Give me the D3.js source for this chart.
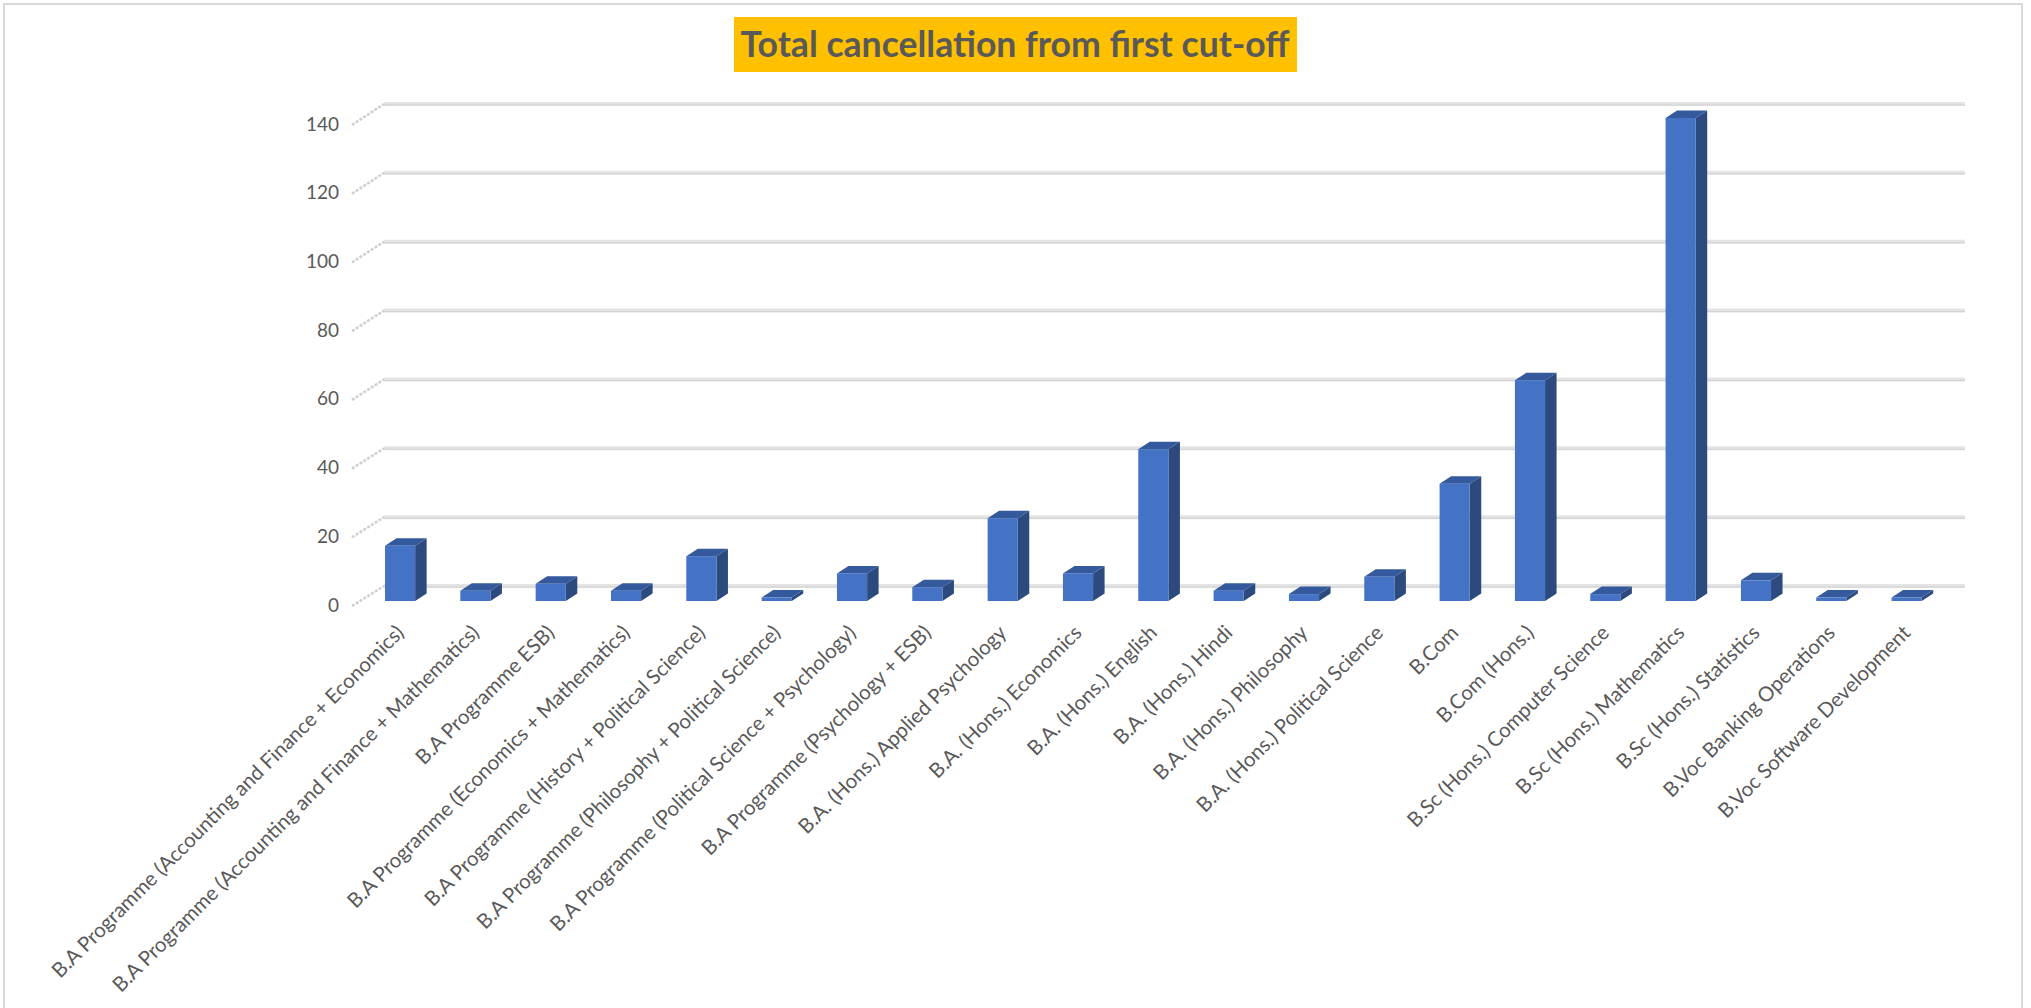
<!doctype html>
<html>
  <head>
    <meta charset="utf-8">
    <title>Total cancellation from first cut-off</title>
    <script src="https://cdn.jsdelivr.net/npm/d3@7/dist/d3.min.js"></script>
    <style>
      html, body { margin:0; padding:0; overflow:hidden; background:#fff }
      svg { display:block }
      text { font-family: Lato, "Open Sans", sans-serif; fill:#595959 }
    </style>
  </head>
  <body>
    <div id="chart"></div>
    <script>
      var W = 2031, H = 1008;

      var courses = [
        "B.A Programme (Accounting and Finance + Economics)",
        "B.A Programme (Accounting and Finance + Mathematics)",
        "B.A Programme ESB)",
        "B.A Programme (Economics + Mathematics)",
        "B.A Programme (History + Political Science)",
        "B.A Programme (Philosophy + Political Science)",
        "B.A Programme (Political Science + Psychology)",
        "B.A Programme (Psychology + ESB)",
        "B.A. (Hons.) Applied Psychology",
        "B.A. (Hons.) Economics",
        "B.A. (Hons.) English",
        "B.A. (Hons.) Hindi",
        "B.A. (Hons.) Philosophy",
        "B.A. (Hons.) Political Science",
        "B.Com",
        "B.Com (Hons.)",
        "B.Sc (Hons.) Computer Science",
        "B.Sc (Hons.) Mathematics",
        "B.Sc (Hons.) Statistics",
        "B.Voc Banking Operations",
        "B.Voc Software Development"
      ];
      var cancellations = [16, 3, 5, 3, 13, 1, 8, 4, 24, 8, 44, 3, 2, 7, 34, 64, 2, 140, 6, 1, 1];
      var yTicks = [0, 20, 40, 60, 80, 100, 120, 140];
      var title = "Total cancellation from first cut-off";

      var svg = d3.select("#chart").append("svg")
        .attr("width", W).attr("height", H);

      // chart area border
      svg.append("rect")
        .attr("x", 4).attr("y", 4).attr("width", 2018).attr("height", H + 10)
        .attr("fill", "none").attr("stroke", "#d9d9d9").attr("stroke-width", 2);

      // scales: front plane (bars), back wall (gridlines), floor edge (labels)
      var x = d3.scaleBand().domain(courses)
        .range([362.4, 1944.3]).paddingInner(0.6).paddingOuter(0.3);
      var yBar = d3.scaleLinear().domain([0, 140]).range([601, 118]);
      var yBack = d3.scaleLinear().domain([0, 140]).range([586, 104]);
      var yFront = d3.scaleLinear().domain([0, 140]).range([605, 124]);

      var wallX0 = 352, wallX1 = 384, wallX2 = 1965;
      var ddx = 11.5, ddy = 7.5;

      // gridlines
      var grid = svg.append("g");
      grid.selectAll("line.g1").data(yTicks).enter().append("line")
        .attr("x1", wallX1).attr("x2", wallX2)
        .attr("y1", function(d) { return yBack(d); })
        .attr("y2", function(d) { return yBack(d); })
        .attr("stroke", "#e4e4e4").attr("stroke-width", 4);
      grid.selectAll("line.g2").data(yTicks).enter().append("line")
        .attr("x1", wallX1).attr("x2", wallX2)
        .attr("y1", function(d) { return yBack(d) + 1; })
        .attr("y2", function(d) { return yBack(d) + 1; })
        .attr("stroke", "#d2d2d2").attr("stroke-width", 1);
      grid.selectAll("line.side").data(yTicks).enter().append("line")
        .attr("x1", wallX0).attr("x2", wallX1)
        .attr("y1", function(d) { return yFront(d) + 1; })
        .attr("y2", function(d) { return yBack(d); })
        .attr("stroke", "#cfcfcf").attr("stroke-width", 2.5)
        .attr("stroke-dasharray", "3,1.5");

      // y axis labels
      var yAxis = d3.axisLeft(yFront).tickValues(yTicks).tickSize(0).tickPadding(0);
      var ya = svg.append("g").attr("transform", "translate(339,0)").call(yAxis);
      ya.select(".domain").remove();
      ya.selectAll("text")
        .style("font-family", "Lato, 'Open Sans', sans-serif")
        .style("font-size", "19px").style("fill", "#595959");

      // 3D bars
      var bars = svg.append("g").selectAll("g").data(cancellations).enter().append("g");
      var bw = x.bandwidth();
      var base = yBar(0);

      bars.append("path")
        .attr("fill", "#2c4a7e")
        .attr("d", function(d, i) {
          var x0 = x(courses[i]) + bw, t = yBar(d);
          return "M" + x0 + "," + t + "L" + (x0 + ddx) + "," + (t - ddy) +
            "L" + (x0 + ddx) + "," + (base - ddy) + "L" + x0 + "," + base + "Z";
        });
      bars.append("path")
        .attr("fill", "#34599c")
        .attr("d", function(d, i) {
          var x0 = x(courses[i]), t = yBar(d);
          return "M" + x0 + "," + t + "L" + (x0 + ddx) + "," + (t - ddy) +
            "L" + (x0 + bw + ddx) + "," + (t - ddy) + "L" + (x0 + bw) + "," + t + "Z";
        });
      bars.append("rect")
        .attr("fill", "#4472c4")
        .attr("x", function(d, i) { return x(courses[i]); })
        .attr("y", function(d) { return yBar(d); })
        .attr("width", bw)
        .attr("height", function(d) { return base - yBar(d); });

      // category labels, rotated
      var labels = svg.append("g").selectAll("text").data(courses).enter().append("text")
        .attr("text-anchor", "end")
        .style("font-size", "16px")
        .attr("transform", function(d) {
          return "translate(" + (x(d) + bw / 2 + 5) + ",634) rotate(-45)";
        })
        .text(function(d) { return d; });
      var L = labels.node().getComputedTextLength();
      labels.style("font-size", (16 * 488 / L) + "px");

      // title
      svg.append("rect")
        .attr("x", 734).attr("y", 17).attr("width", 563).attr("height", 55)
        .attr("fill", "#ffc000");
      var t = svg.append("text")
        .attr("x", 1015).attr("y", 57)
        .attr("text-anchor", "middle")
        .style("font-size", "37px").style("font-weight", "bold")
        .text(title);
      if (t.node().getComputedTextLength() > 549) {
        t.attr("textLength", 549).attr("lengthAdjust", "spacingAndGlyphs");
      }
    </script>
  </body>
</html>
